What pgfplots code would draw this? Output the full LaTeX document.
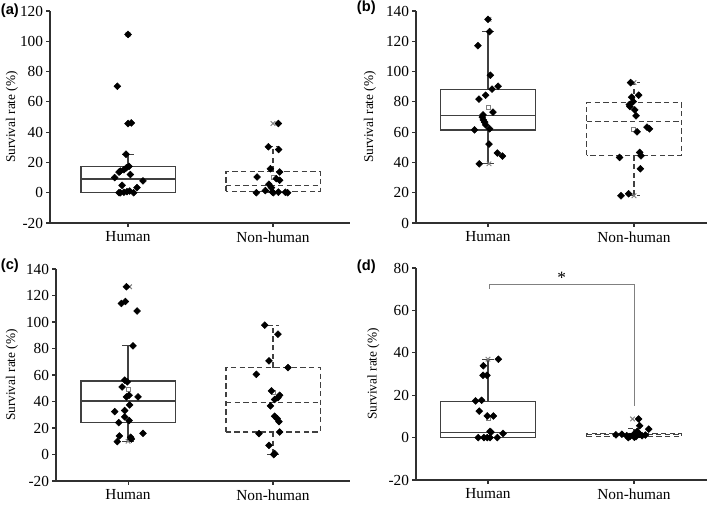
\documentclass[border=0pt]{standalone}
\usepackage{fontspec}
\setmainfont{Liberation Serif}
\newfontfamily\labfont{Liberation Sans}
\usepackage{pgfplots}
\usepgfplotslibrary{statistics}
\pgfplotsset{compat=1.18}
\definecolor{boxc}{HTML}{404040}
\definecolor{axc}{HTML}{303030}
\pgfplotsset{
  panel/.style={
    scale only axis, height=159pt,
    axis lines*=left, axis line style={-, axc, line width=0.8pt},
    tick align=outside, major tick length=2.8pt,
    tick style={axc, line width=0.8pt},
    xtick={1,2}, xticklabels={Human,Non-human},
    ylabel={Survival rate (\%)},
    /pgf/number format/assume math mode=true,
    ticklabel style={font=\fontsize{11.5}{13}\selectfont},
    yticklabel style={inner xsep=2.2pt},
    label style={font=\fontsize{12}{13}\selectfont},
    clip=false,
    boxplot/draw direction=y,
  },
  ylab/.style={every axis y label/.style={at={(axis description cs:0,0.5)}, xshift=-#1, rotate=90, anchor=center}},
  hbox/.style={solid, draw=boxc, line width=0.95pt, mark=none,
    boxplot/box extend=0.65, boxplot/whisker extend=0.08},
  nbox/.style={dash pattern=on 4pt off 2.5pt, draw=boxc, line width=0.95pt, mark=none,
    boxplot/box extend=0.65, boxplot/whisker extend=0.08},
  pts/.style={only marks, mark=square*, mark size=1.8pt,
    mark options={rotate=45, fill=black, draw=black, solid}},
  xm/.style={only marks, mark=x, mark size=2.4pt, mark options={draw=gray, solid, line width=0.7pt}},
  mn/.style={only marks, mark=square, mark size=1.5pt, mark options={draw=gray, solid, line width=0.6pt}},
}
\begin{document}
\begin{tikzpicture}
\useasboundingbox (0,0) rectangle (531.75pt,-379.5pt);
% ---------------- (a)
\begin{axis}[panel, ylab=28.5pt, at={(37.5pt,-167.25pt)}, anchor=south west, width=225pt,
  xmin=0.462, xmax=2.531, ymin=-20, ymax=120, ytick={-20,0,20,40,60,80,100,120}]
\addplot[hbox, boxplot prepared={draw position=1, lower whisker=0, lower quartile=0,
  median=9, upper quartile=17.4, upper whisker=25.4}] coordinates {};
\addplot[nbox, boxplot prepared={draw position=2, lower whisker=0, lower quartile=1,
  median=4.8, upper quartile=14, upper whisker=30.3}] coordinates {};
\addplot[xm] coordinates {(1,104.5) (2,45.7)};
\addplot[mn] coordinates {(2,10)};
\addplot[pts] table {
1.000 104.5
0.926 70.3
1.000 45.7
1.023 46.1
0.986 25.4
1.007 17.4
0.989 16.5
0.972 15.2
0.947 14.3
0.938 13.6
1.016 12.0
0.908 10.0
1.103 7.8
0.959 4.9
1.062 3.4
0.938 0
0.947 0
0.972 0.3
0.993 0.7
1.011 1.1
1.039 0
};
\addplot[pts] table {
2.037 45.7
1.968 30.3
2.039 28.5
1.982 15.8
2.046 13.7
1.890 10.4
2.023 9.3
2.046 8.2
1.972 5.6
1.989 3.4
1.947 1.4
1.995 0.5
1.885 0
2.037 0.4
2.002 0
2.101 0
2.085 0.3
};
\end{axis}
% ---------------- (b)
\begin{axis}[panel, ylab=34.5pt, at={(312pt,-167.25pt)}, anchor=south west, width=218.25pt,
  xmin=0.507, xmax=2.5, ymin=0, ymax=140, ytick={0,20,40,60,80,100,120,140}]
\addplot[hbox, boxplot prepared={draw position=1, lower whisker=39.1, lower quartile=61.5,
  median=71, upper quartile=88.4, upper whisker=126.4}] coordinates {};
\addplot[nbox, boxplot prepared={draw position=2, lower whisker=18, lower quartile=44.6,
  median=66.8, upper quartile=79.4, upper whisker=92.7}] coordinates {};
\addplot[xm] coordinates {(1.007,134.5) (1.007,39.1) (2,92.7) (2,18)};
\addplot[mn] coordinates {(1.003,76.5) (1.998,62)};
\addplot[pts] table {
1.000 134.5
1.011 126.4
0.931 117.1
1.016 97.6
1.069 90.3
1.028 88.4
0.984 84.4
0.938 81.8
1.034 73.2
0.966 71.4
0.961 69.9
0.968 68.1
0.977 66.6
0.984 64.8
1.011 62.2
0.908 61.5
1.007 52.1
1.064 46.2
1.099 44.2
0.940 39.1
};
\addplot[pts] table {
1.977 92.7
1.984 83.1
2.032 84.4
1.995 80.2
1.968 78.2
1.972 76.9
2.005 74.7
2.014 70.8
2.089 63.3
2.106 62.2
2.021 60.2
2.039 46.6
2.048 44.4
1.901 43.3
2.044 35.8
1.963 19.3
1.911 18.0
};
\end{axis}
% ---------------- (c)
\begin{axis}[panel, ylab=33pt, at={(42pt,-360.75pt)}, anchor=south west, width=220.5pt,
  xmin=0.503, xmax=2.531, ymin=-20, ymax=140, ytick={-20,0,20,40,60,80,100,120,140}]
\addplot[hbox, boxplot prepared={draw position=1, lower whisker=10, lower quartile=24.1,
  median=40.4, upper quartile=55.4, upper whisker=82}] coordinates {};
\addplot[nbox, boxplot prepared={draw position=2, lower whisker=0, lower quartile=17,
  median=39.5, upper quartile=65.6, upper whisker=97.6}] coordinates {};
\addplot[xm] coordinates {(1.011,126.6) (1,10)};
\addplot[mn] coordinates {(1,49.5) (2,47.2)};
\addplot[pts] table {
0.989 126.6
0.954 114.0
0.982 115.5
1.062 108.3
1.034 82.0
0.977 56.1
0.995 54.8
0.959 51.0
1.007 44.7
0.989 43.5
1.069 43.5
1.011 37.4
0.908 32.4
0.977 33.2
0.977 28.4
1.007 25.6
0.936 24.1
1.103 16.0
0.940 14.0
1.018 13.0
1.023 11.7
0.926 9.7
};
\addplot[pts] table {
1.943 97.6
2.034 90.8
1.972 70.7
2.103 65.6
1.885 60.5
1.989 48.0
2.046 44.7
2.034 43.0
2.011 41.5
1.982 36.7
2.011 28.9
2.028 27.1
2.041 24.8
2.046 17.0
1.903 15.8
1.972 6.9
2.011 0.7
2.005 0
};
\end{axis}
% ---------------- (d)
\begin{axis}[panel, ylab=32pt, at={(312pt,-360pt)}, anchor=south west, width=218.25pt,
  xmin=0.507, xmax=2.5, ymin=-20, ymax=80, ytick={-20,0,20,40,60,80}]
\addplot[hbox, boxplot prepared={draw position=1, lower whisker=0, lower quartile=0,
  median=2.3, upper quartile=17.2, upper whisker=37}] coordinates {};
\addplot[nbox, boxplot prepared={draw position=2, lower whisker=0, lower quartile=0.5,
  median=1.3, upper quartile=2.1, upper whisker=4.2}] coordinates {};
\addplot[gray, line width=0.7pt] coordinates {(1.011,70.2) (1.011,72.1) (2.005,72.1) (2.005,14.8)};
\node[font=\fontsize{13}{14}\selectfont] at (axis cs:1.505,75.5) {*};
\addplot[xm] coordinates {(1,37) (1.99,8.8)};
\addplot[mn] coordinates {(1,9.2)};
\addplot[pts] table {
1.071 37.0
0.968 33.9
0.966 29.4
0.993 29.4
0.915 17.3
0.956 17.6
0.940 12.5
0.995 10.2
1.037 10.2
1.014 2.9
1.021 2.6
1.103 1.96
0.933 0
0.972 0
0.995 0
1.014 0
1.064 0
};
\addplot[pts] table {
2.032 8.8
2.039 5.6
2.101 4.0
2.021 2.9
1.876 1.3
1.917 1.6
1.950 0.9
1.972 0.5
1.995 1.3
2.014 0.5
2.039 1.6
2.055 0.9
2.078 1.2
1.961 0
2.002 0.2
};
\end{axis}
\node[anchor=west, inner sep=0.5pt, font=\labfont\bfseries\fontsize{11}{13}\selectfont] at (0pt,-8.25pt) {(a)};
\node[anchor=west, inner sep=0.5pt, font=\labfont\bfseries\fontsize{11}{13}\selectfont] at (267pt,-5.5pt) {(b)};
\node[anchor=west, inner sep=0.5pt, font=\labfont\bfseries\fontsize{11}{13}\selectfont] at (0pt,-199.5pt) {(c)};
\node[anchor=west, inner sep=0.5pt, font=\labfont\bfseries\fontsize{11}{13}\selectfont] at (267pt,-200.25pt) {(d)};
\end{tikzpicture}
\end{document}
